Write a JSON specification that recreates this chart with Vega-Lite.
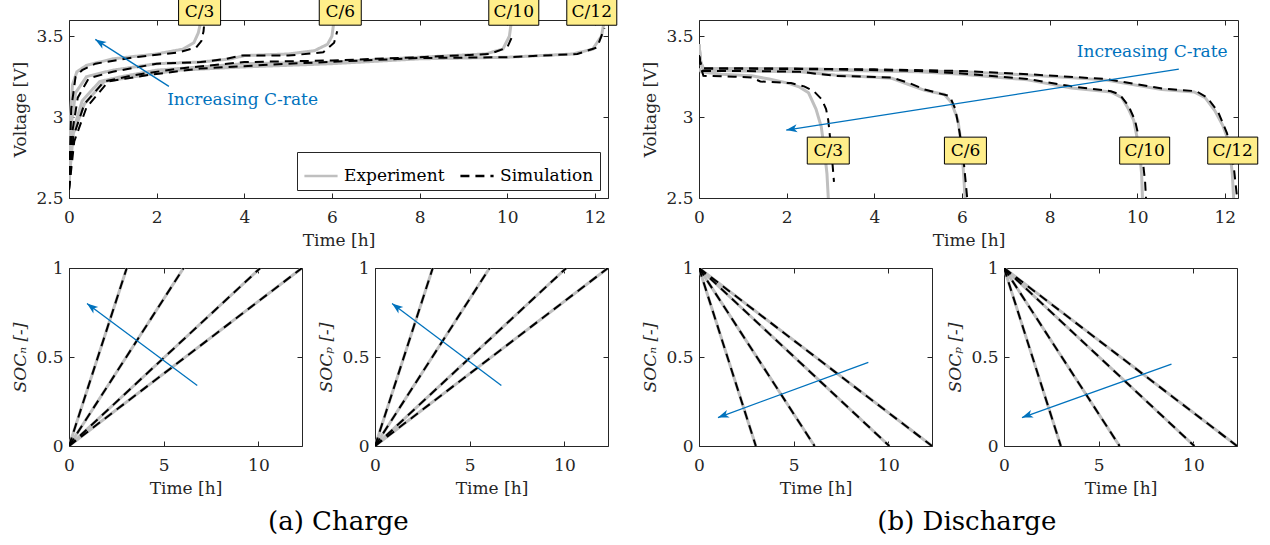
{
"$schema":"https://vega.github.io/schema/vega-lite/v6.json",
"background":"white",
"padding":{"left":11,"top":-5,"right":0,"bottom":0},
"spacing":21,
"config":{
 "font":"DejaVu Serif",
 "view":{"stroke":"#262626","strokeWidth":1},
 "axis":{"domain":false,"grid":false,"tickSize":-5,"tickColor":"#262626","tickWidth":1,"labelFont":"DejaVu Serif","labelFontSize":17,"labelColor":"#262626","titleFont":"DejaVu Serif","titleFontSize":17,"titleFontWeight":"normal","titleColor":"#262626","labelFlush":false},
 "axisX":{"labelPadding":16,"titlePadding":7},
 "axisY":{"labelPadding":11,"titlePadding":6},
 "title":{"font":"DejaVu Serif","fontSize":26,"fontWeight":"normal","color":"#000000"}
},
"datasets":{
"vc":[
{"r":"C/3","src":"Experiment","t":0,"v":2.6},{"r":"C/3","src":"Experiment","t":0.03,"v":3.0},{"r":"C/3","src":"Experiment","t":0.08,"v":3.2},{"r":"C/3","src":"Experiment","t":0.18,"v":3.28},{"r":"C/3","src":"Experiment","t":0.4,"v":3.32},{"r":"C/3","src":"Experiment","t":1,"v":3.36},{"r":"C/3","src":"Experiment","t":2,"v":3.39},{"r":"C/3","src":"Experiment","t":2.6,"v":3.42},{"r":"C/3","src":"Experiment","t":2.85,"v":3.46},{"r":"C/3","src":"Experiment","t":2.95,"v":3.52},{"r":"C/3","src":"Experiment","t":3.0,"v":3.58},{"r":"C/3","src":"Experiment","t":3.02,"v":3.6},
{"r":"C/3","src":"Simulation","t":0,"v":2.55},{"r":"C/3","src":"Simulation","t":0.05,"v":3.05},{"r":"C/3","src":"Simulation","t":0.15,"v":3.25},{"r":"C/3","src":"Simulation","t":0.3,"v":3.29},{"r":"C/3","src":"Simulation","t":0.6,"v":3.33},{"r":"C/3","src":"Simulation","t":1.5,"v":3.37},{"r":"C/3","src":"Simulation","t":2.5,"v":3.4},{"r":"C/3","src":"Simulation","t":2.9,"v":3.43},{"r":"C/3","src":"Simulation","t":3.02,"v":3.47},{"r":"C/3","src":"Simulation","t":3.07,"v":3.53},{"r":"C/3","src":"Simulation","t":3.08,"v":3.56},
{"r":"C/6","src":"Experiment","t":0,"v":2.6},{"r":"C/6","src":"Experiment","t":0.05,"v":2.95},{"r":"C/6","src":"Experiment","t":0.15,"v":3.15},{"r":"C/6","src":"Experiment","t":0.4,"v":3.25},{"r":"C/6","src":"Experiment","t":1,"v":3.29},{"r":"C/6","src":"Experiment","t":2,"v":3.33},{"r":"C/6","src":"Experiment","t":3,"v":3.34},{"r":"C/6","src":"Experiment","t":3.7,"v":3.36},{"r":"C/6","src":"Experiment","t":4,"v":3.38},{"r":"C/6","src":"Experiment","t":5,"v":3.39},{"r":"C/6","src":"Experiment","t":5.6,"v":3.41},{"r":"C/6","src":"Experiment","t":5.9,"v":3.45},{"r":"C/6","src":"Experiment","t":6.0,"v":3.5},{"r":"C/6","src":"Experiment","t":6.05,"v":3.6},
{"r":"C/6","src":"Simulation","t":0,"v":2.55},{"r":"C/6","src":"Simulation","t":0.07,"v":2.9},{"r":"C/6","src":"Simulation","t":0.2,"v":3.12},{"r":"C/6","src":"Simulation","t":0.45,"v":3.24},{"r":"C/6","src":"Simulation","t":1,"v":3.28},{"r":"C/6","src":"Simulation","t":2,"v":3.33},{"r":"C/6","src":"Simulation","t":3,"v":3.34},{"r":"C/6","src":"Simulation","t":3.6,"v":3.36},{"r":"C/6","src":"Simulation","t":3.9,"v":3.38},{"r":"C/6","src":"Simulation","t":5,"v":3.38},{"r":"C/6","src":"Simulation","t":5.8,"v":3.4},{"r":"C/6","src":"Simulation","t":6.05,"v":3.46},{"r":"C/6","src":"Simulation","t":6.12,"v":3.53},
{"r":"C/10","src":"Experiment","t":0,"v":2.6},{"r":"C/10","src":"Experiment","t":0.08,"v":2.9},{"r":"C/10","src":"Experiment","t":0.3,"v":3.1},{"r":"C/10","src":"Experiment","t":0.7,"v":3.22},{"r":"C/10","src":"Experiment","t":1.2,"v":3.25},{"r":"C/10","src":"Experiment","t":2,"v":3.29},{"r":"C/10","src":"Experiment","t":3,"v":3.31},{"r":"C/10","src":"Experiment","t":4,"v":3.33},{"r":"C/10","src":"Experiment","t":6,"v":3.34},{"r":"C/10","src":"Experiment","t":8,"v":3.37},{"r":"C/10","src":"Experiment","t":9.5,"v":3.39},{"r":"C/10","src":"Experiment","t":9.9,"v":3.42},{"r":"C/10","src":"Experiment","t":10.05,"v":3.5},{"r":"C/10","src":"Experiment","t":10.1,"v":3.6},
{"r":"C/10","src":"Simulation","t":0,"v":2.55},{"r":"C/10","src":"Simulation","t":0.1,"v":2.88},{"r":"C/10","src":"Simulation","t":0.35,"v":3.08},{"r":"C/10","src":"Simulation","t":0.8,"v":3.22},{"r":"C/10","src":"Simulation","t":1.5,"v":3.26},{"r":"C/10","src":"Simulation","t":2.5,"v":3.3},{"r":"C/10","src":"Simulation","t":4,"v":3.34},{"r":"C/10","src":"Simulation","t":6,"v":3.35},{"r":"C/10","src":"Simulation","t":8,"v":3.37},{"r":"C/10","src":"Simulation","t":9.6,"v":3.39},{"r":"C/10","src":"Simulation","t":10.0,"v":3.43},{"r":"C/10","src":"Simulation","t":10.15,"v":3.52},
{"r":"C/12","src":"Experiment","t":0,"v":2.6},{"r":"C/12","src":"Experiment","t":0.1,"v":2.9},{"r":"C/12","src":"Experiment","t":0.35,"v":3.08},{"r":"C/12","src":"Experiment","t":0.8,"v":3.22},{"r":"C/12","src":"Experiment","t":1.5,"v":3.25},{"r":"C/12","src":"Experiment","t":2.5,"v":3.29},{"r":"C/12","src":"Experiment","t":4,"v":3.31},{"r":"C/12","src":"Experiment","t":6,"v":3.33},{"r":"C/12","src":"Experiment","t":8,"v":3.36},{"r":"C/12","src":"Experiment","t":10,"v":3.37},{"r":"C/12","src":"Experiment","t":11.5,"v":3.39},{"r":"C/12","src":"Experiment","t":11.95,"v":3.42},{"r":"C/12","src":"Experiment","t":12.15,"v":3.5},{"r":"C/12","src":"Experiment","t":12.22,"v":3.6},
{"r":"C/12","src":"Simulation","t":0,"v":2.55},{"r":"C/12","src":"Simulation","t":0.12,"v":2.85},{"r":"C/12","src":"Simulation","t":0.4,"v":3.06},{"r":"C/12","src":"Simulation","t":0.9,"v":3.22},{"r":"C/12","src":"Simulation","t":1.8,"v":3.26},{"r":"C/12","src":"Simulation","t":3,"v":3.3},{"r":"C/12","src":"Simulation","t":5,"v":3.33},{"r":"C/12","src":"Simulation","t":8,"v":3.365},{"r":"C/12","src":"Simulation","t":10,"v":3.37},{"r":"C/12","src":"Simulation","t":11.6,"v":3.39},{"r":"C/12","src":"Simulation","t":12.05,"v":3.43},{"r":"C/12","src":"Simulation","t":12.22,"v":3.55}
],
"vd":[
{"r":"C/3","src":"Experiment","t":0,"v":3.3},{"r":"C/3","src":"Experiment","t":0.05,"v":3.28},{"r":"C/3","src":"Experiment","t":0.5,"v":3.265},{"r":"C/3","src":"Experiment","t":1.2,"v":3.255},{"r":"C/3","src":"Experiment","t":1.6,"v":3.235},{"r":"C/3","src":"Experiment","t":2.03,"v":3.21},{"r":"C/3","src":"Experiment","t":2.3,"v":3.185},{"r":"C/3","src":"Experiment","t":2.5,"v":3.15},{"r":"C/3","src":"Experiment","t":2.67,"v":3.05},{"r":"C/3","src":"Experiment","t":2.79,"v":2.94},{"r":"C/3","src":"Experiment","t":2.86,"v":2.8},{"r":"C/3","src":"Experiment","t":2.92,"v":2.65},{"r":"C/3","src":"Experiment","t":2.95,"v":2.5},
{"r":"C/3","src":"Simulation","t":0,"v":3.38},{"r":"C/3","src":"Simulation","t":0.05,"v":3.3},{"r":"C/3","src":"Simulation","t":0.1,"v":3.255},{"r":"C/3","src":"Simulation","t":0.8,"v":3.25},{"r":"C/3","src":"Simulation","t":1.2,"v":3.245},{"r":"C/3","src":"Simulation","t":1.4,"v":3.22},{"r":"C/3","src":"Simulation","t":2.1,"v":3.21},{"r":"C/3","src":"Simulation","t":2.4,"v":3.19},{"r":"C/3","src":"Simulation","t":2.62,"v":3.16},{"r":"C/3","src":"Simulation","t":2.8,"v":3.11},{"r":"C/3","src":"Simulation","t":2.9,"v":3.05},{"r":"C/3","src":"Simulation","t":2.95,"v":2.98},{"r":"C/3","src":"Simulation","t":3.0,"v":2.85},{"r":"C/3","src":"Simulation","t":3.05,"v":2.7},{"r":"C/3","src":"Simulation","t":3.08,"v":2.6},
{"r":"C/6","src":"Experiment","t":0,"v":3.45},{"r":"C/6","src":"Experiment","t":0.04,"v":3.33},{"r":"C/6","src":"Experiment","t":0.1,"v":3.29},{"r":"C/6","src":"Experiment","t":1,"v":3.285},{"r":"C/6","src":"Experiment","t":2.3,"v":3.28},{"r":"C/6","src":"Experiment","t":3.1,"v":3.26},{"r":"C/6","src":"Experiment","t":4.4,"v":3.24},{"r":"C/6","src":"Experiment","t":4.8,"v":3.2},{"r":"C/6","src":"Experiment","t":5.15,"v":3.165},{"r":"C/6","src":"Experiment","t":5.6,"v":3.14},{"r":"C/6","src":"Experiment","t":5.76,"v":3.09},{"r":"C/6","src":"Experiment","t":5.91,"v":2.98},{"r":"C/6","src":"Experiment","t":6.0,"v":2.8},{"r":"C/6","src":"Experiment","t":6.05,"v":2.6},{"r":"C/6","src":"Experiment","t":6.07,"v":2.5},
{"r":"C/6","src":"Simulation","t":0,"v":3.38},{"r":"C/6","src":"Simulation","t":0.05,"v":3.3},{"r":"C/6","src":"Simulation","t":0.1,"v":3.285},{"r":"C/6","src":"Simulation","t":1,"v":3.285},{"r":"C/6","src":"Simulation","t":2.3,"v":3.28},{"r":"C/6","src":"Simulation","t":3.1,"v":3.255},{"r":"C/6","src":"Simulation","t":4.4,"v":3.245},{"r":"C/6","src":"Simulation","t":4.8,"v":3.21},{"r":"C/6","src":"Simulation","t":5.15,"v":3.17},{"r":"C/6","src":"Simulation","t":5.5,"v":3.145},{"r":"C/6","src":"Simulation","t":5.72,"v":3.13},{"r":"C/6","src":"Simulation","t":5.85,"v":3.05},{"r":"C/6","src":"Simulation","t":5.95,"v":2.9},{"r":"C/6","src":"Simulation","t":6.05,"v":2.7},{"r":"C/6","src":"Simulation","t":6.12,"v":2.5},
{"r":"C/10","src":"Experiment","t":0,"v":3.45},{"r":"C/10","src":"Experiment","t":0.04,"v":3.34},{"r":"C/10","src":"Experiment","t":0.1,"v":3.3},{"r":"C/10","src":"Experiment","t":1,"v":3.3},{"r":"C/10","src":"Experiment","t":3,"v":3.29},{"r":"C/10","src":"Experiment","t":5,"v":3.28},{"r":"C/10","src":"Experiment","t":6,"v":3.265},{"r":"C/10","src":"Experiment","t":7.5,"v":3.23},{"r":"C/10","src":"Experiment","t":8.5,"v":3.18},{"r":"C/10","src":"Experiment","t":9.4,"v":3.155},{"r":"C/10","src":"Experiment","t":9.65,"v":3.12},{"r":"C/10","src":"Experiment","t":9.8,"v":3.05},{"r":"C/10","src":"Experiment","t":9.92,"v":2.98},{"r":"C/10","src":"Experiment","t":10.05,"v":2.8},{"r":"C/10","src":"Experiment","t":10.1,"v":2.65},{"r":"C/10","src":"Experiment","t":10.12,"v":2.5},
{"r":"C/10","src":"Simulation","t":0,"v":3.38},{"r":"C/10","src":"Simulation","t":0.05,"v":3.31},{"r":"C/10","src":"Simulation","t":0.1,"v":3.3},{"r":"C/10","src":"Simulation","t":1,"v":3.3},{"r":"C/10","src":"Simulation","t":3,"v":3.295},{"r":"C/10","src":"Simulation","t":5,"v":3.285},{"r":"C/10","src":"Simulation","t":6,"v":3.27},{"r":"C/10","src":"Simulation","t":7.5,"v":3.235},{"r":"C/10","src":"Simulation","t":8.5,"v":3.19},{"r":"C/10","src":"Simulation","t":9.4,"v":3.16},{"r":"C/10","src":"Simulation","t":9.6,"v":3.14},{"r":"C/10","src":"Simulation","t":9.8,"v":3.07},{"r":"C/10","src":"Simulation","t":9.95,"v":2.98},{"r":"C/10","src":"Simulation","t":10.1,"v":2.8},{"r":"C/10","src":"Simulation","t":10.18,"v":2.6},{"r":"C/10","src":"Simulation","t":10.2,"v":2.5},
{"r":"C/12","src":"Experiment","t":0,"v":3.45},{"r":"C/12","src":"Experiment","t":0.04,"v":3.34},{"r":"C/12","src":"Experiment","t":0.1,"v":3.3},{"r":"C/12","src":"Experiment","t":2,"v":3.3},{"r":"C/12","src":"Experiment","t":4,"v":3.29},{"r":"C/12","src":"Experiment","t":6,"v":3.28},{"r":"C/12","src":"Experiment","t":7.5,"v":3.26},{"r":"C/12","src":"Experiment","t":9.26,"v":3.23},{"r":"C/12","src":"Experiment","t":10.56,"v":3.17},{"r":"C/12","src":"Experiment","t":11.3,"v":3.155},{"r":"C/12","src":"Experiment","t":11.55,"v":3.12},{"r":"C/12","src":"Experiment","t":11.77,"v":3.04},{"r":"C/12","src":"Experiment","t":11.95,"v":2.95},{"r":"C/12","src":"Experiment","t":12.09,"v":2.85},{"r":"C/12","src":"Experiment","t":12.17,"v":2.65},{"r":"C/12","src":"Experiment","t":12.2,"v":2.5},
{"r":"C/12","src":"Simulation","t":0,"v":3.38},{"r":"C/12","src":"Simulation","t":0.05,"v":3.31},{"r":"C/12","src":"Simulation","t":0.1,"v":3.3},{"r":"C/12","src":"Simulation","t":2,"v":3.3},{"r":"C/12","src":"Simulation","t":4,"v":3.295},{"r":"C/12","src":"Simulation","t":6,"v":3.285},{"r":"C/12","src":"Simulation","t":7.5,"v":3.265},{"r":"C/12","src":"Simulation","t":9.3,"v":3.235},{"r":"C/12","src":"Simulation","t":10.6,"v":3.175},{"r":"C/12","src":"Simulation","t":11.35,"v":3.16},{"r":"C/12","src":"Simulation","t":11.6,"v":3.12},{"r":"C/12","src":"Simulation","t":11.85,"v":3.03},{"r":"C/12","src":"Simulation","t":12.05,"v":2.9},{"r":"C/12","src":"Simulation","t":12.2,"v":2.7},{"r":"C/12","src":"Simulation","t":12.28,"v":2.5}
],
"soc":[
{"p":"charge","r":"C/3","t":0,"v":0},{"p":"charge","r":"C/3","t":3.05,"v":1},
{"p":"charge","r":"C/6","t":0,"v":0},{"p":"charge","r":"C/6","t":6.05,"v":1},
{"p":"charge","r":"C/10","t":0,"v":0},{"p":"charge","r":"C/10","t":10.1,"v":1},
{"p":"charge","r":"C/12","t":0,"v":0},{"p":"charge","r":"C/12","t":12.3,"v":1},
{"p":"discharge","r":"C/3","t":0,"v":1},{"p":"discharge","r":"C/3","t":3.0,"v":0},
{"p":"discharge","r":"C/6","t":0,"v":1},{"p":"discharge","r":"C/6","t":6.1,"v":0},
{"p":"discharge","r":"C/10","t":0,"v":1},{"p":"discharge","r":"C/10","t":10.05,"v":0},
{"p":"discharge","r":"C/12","t":0,"v":1},{"p":"discharge","r":"C/12","t":12.3,"v":0}
],
"arrows":[
{"p":"VC","t":2.28,"v":3.19,"t2":0.6,"v2":3.48},
{"p":"VD","t":10.95,"v":3.296,"t2":1.99,"v2":2.92},
{"p":"SCn","t":6.77,"v":0.34,"t2":0.95,"v2":0.8},
{"p":"SCp","t":6.67,"v":0.34,"t2":0.9,"v2":0.8},
{"p":"SDn","t":8.94,"v":0.47,"t2":1.0,"v2":0.16},
{"p":"SDp","t":8.84,"v":0.46,"t2":0.95,"v2":0.16}
],
"notes":[
{"p":"VC","label":"Increasing C-rate","t":2.24,"v":3.105},
{"p":"VD","label":"Increasing C-rate","t":8.62,"v":3.4}
],
"boxes":[
{"p":"VC","label":"C/3","t":2.98,"v":3.651},
{"p":"VC","label":"C/6","t":6.19,"v":3.651},
{"p":"VC","label":"C/10","t":10.15,"v":3.651},
{"p":"VC","label":"C/12","t":11.93,"v":3.651},
{"p":"VD","label":"C/3","t":2.95,"v":2.793},
{"p":"VD","label":"C/6","t":6.08,"v":2.793},
{"p":"VD","label":"C/10","t":10.17,"v":2.793},
{"p":"VD","label":"C/12","t":12.18,"v":2.793}
]
},
"resolve":{"scale":{"color":"independent","strokeDash":"independent"},"legend":{"color":"independent","strokeDash":"independent"}},
"hconcat":[
{
 "title":{"text":"(a) Charge","orient":"bottom","frame":"bounds","anchor":"middle","offset":12,"dx":23},
 "spacing":9,
 "resolve":{"scale":{"color":"independent","strokeDash":"independent"},"legend":{"color":"independent","strokeDash":"independent"}},
 "vconcat":[
  {"width":539,"height":178,
   "resolve":{"axis":{"x":"independent","y":"independent"}},
   "layer":[
   {"layer":[
    {"data":{"name":"vc"},"transform":[{"filter":"datum.src=='Experiment'"}],
     "mark":{"type":"line","strokeWidth":3,"clip":true},
     "encoding":{
      "x":{"field":"t","type":"quantitative","scale":{"domain":[0,12.3],"nice":false,"zero":false},"axis":{"values":[0,2,4,6,8,10,12],"title":"Time [h]"}},
      "y":{"field":"v","type":"quantitative","scale":{"domain":[2.5,3.6],"nice":false,"zero":false},"axis":{"values":[2.5,3,3.5],"format":"~g","title":"Voltage [V]"}},
      "color":{"field":"src","type":"nominal","scale":{"domain":["Experiment","Simulation"],"range":["#bfbfbf","#000000"]},"legend":{"title":null,"orient":"bottom-right","direction":"horizontal","offset":8,"fillColor":"#ffffff","strokeColor":"#262626","padding":6,"labelFont":"DejaVu Serif","labelFontSize":17,"labelColor":"#000000","symbolType":"stroke","symbolSize":1100,"symbolStrokeWidth":2.5,"labelOffset":5,"columnPadding":10,"cornerRadius":0}},
      "strokeDash":{"field":"src","type":"nominal","scale":{"domain":["Experiment","Simulation"],"range":[[1,0],[9,6]]},"legend":{"title":null,"orient":"bottom-right","direction":"horizontal","offset":8,"fillColor":"#ffffff","strokeColor":"#262626","padding":6,"labelFont":"DejaVu Serif","labelFontSize":17,"labelColor":"#000000","symbolType":"stroke","symbolSize":1100,"symbolStrokeWidth":2.5,"labelOffset":5,"columnPadding":10,"cornerRadius":0}},
      "detail":{"field":"r"}
     }},
    {"data":{"name":"vc"},"transform":[{"filter":"datum.src=='Simulation'"}],
     "mark":{"type":"line","strokeWidth":2,"clip":true},
     "encoding":{
      "x":{"field":"t","type":"quantitative"},
      "y":{"field":"v","type":"quantitative"},
      "color":{"field":"src","type":"nominal","scale":{"domain":["Experiment","Simulation"],"range":["#bfbfbf","#000000"]},"legend":{"title":null,"orient":"bottom-right","direction":"horizontal","offset":8,"fillColor":"#ffffff","strokeColor":"#262626","padding":6,"labelFont":"DejaVu Serif","labelFontSize":17,"labelColor":"#000000","symbolType":"stroke","symbolSize":1100,"symbolStrokeWidth":2.5,"labelOffset":5,"columnPadding":10,"cornerRadius":0}},
      "strokeDash":{"field":"src","type":"nominal","scale":{"domain":["Experiment","Simulation"],"range":[[1,0],[9,6]]},"legend":{"title":null,"orient":"bottom-right","direction":"horizontal","offset":8,"fillColor":"#ffffff","strokeColor":"#262626","padding":6,"labelFont":"DejaVu Serif","labelFontSize":17,"labelColor":"#000000","symbolType":"stroke","symbolSize":1100,"symbolStrokeWidth":2.5,"labelOffset":5,"columnPadding":10,"cornerRadius":0}},
      "detail":{"field":"r"}
     }},
    {"data":{"name":"arrows"},"transform":[{"filter":"datum.p=='VC'"}],"mark":{"type":"rule","color":"#0072BD","strokeWidth":1.3},"encoding":{"x":{"field":"t","type":"quantitative"},"y":{"field":"v","type":"quantitative"},"x2":{"field":"t2"},"y2":{"field":"v2"}}},
    {"data":{"name":"arrows"},"transform":[{"filter":"datum.p=='VC'"}],"mark":{"type":"point","shape":"M0,0L0.55,1.5L0,1.1L-0.55,1.5Z","angle":302.5,"size":215,"filled":true,"color":"#0072BD","opacity":1},"encoding":{"x":{"field":"t2","type":"quantitative"},"y":{"field":"v2","type":"quantitative"}}},
    {"data":{"name":"notes"},"transform":[{"filter":"datum.p=='VC'"}],"mark":{"type":"text","align":"left","baseline":"middle","font":"DejaVu Serif","fontSize":17,"color":"#0072BD"},"encoding":{"x":{"field":"t","type":"quantitative"},"y":{"field":"v","type":"quantitative"},"text":{"field":"label"}}},
    {"data":{"name":"boxes"},"transform":[{"filter":"datum.p=='VC' && length(datum.label)<4"}],"mark":{"type":"point","shape":"M-1,-0.64H1V0.64H-1Z","size":1764,"filled":true,"fill":"#FFEE8A","stroke":"#000000","strokeWidth":1,"opacity":1},"encoding":{"x":{"field":"t","type":"quantitative"},"y":{"field":"v","type":"quantitative"}}},
    {"data":{"name":"boxes"},"transform":[{"filter":"datum.p=='VC' && length(datum.label)>3"}],"mark":{"type":"point","shape":"M-1,-0.54H1V0.54H-1Z","size":2500,"filled":true,"fill":"#FFEE8A","stroke":"#000000","strokeWidth":1,"opacity":1},"encoding":{"x":{"field":"t","type":"quantitative"},"y":{"field":"v","type":"quantitative"}}},
    {"data":{"name":"boxes"},"transform":[{"filter":"datum.p=='VC'"}],"mark":{"type":"text","align":"center","baseline":"middle","font":"DejaVu Serif","fontSize":17,"color":"#000000"},"encoding":{"x":{"field":"t","type":"quantitative"},"y":{"field":"v","type":"quantitative"},"text":{"field":"label"}}}
   ]},
   {"data":{"name":"arrows"},"transform":[{"filter":"datum.p=='VC'"}],"mark":{"type":"point","opacity":0},"encoding":{"x":{"field":"t","type":"quantitative","axis":{"orient":"top","labels":false,"title":null,"values":[0,2,4,6,8,10,12]}},"y":{"field":"v","type":"quantitative","axis":{"orient":"right","labels":false,"title":null,"values":[2.5,3,3.5]}}}}
   ]},
  {"spacing":14,
   "hconcat":[
    {"width":233,"height":178,
     "resolve":{"axis":{"x":"independent","y":"independent"}},
     "layer":[
     {"layer":[
      {"data":{"name":"soc"},"transform":[{"filter":"datum.p=='charge'"}],"mark":{"type":"line","color":"#bfbfbf","strokeWidth":3,"clip":true},"encoding":{"x":{"field":"t","type":"quantitative","scale":{"domain":[0,12.3],"nice":false},"axis":{"values":[0,5,10],"title":"Time [h]"}},"y":{"field":"v","type":"quantitative","scale":{"domain":[0,1],"nice":false},"axis":{"values":[0,0.5,1],"format":"~g","title":"SOCₙ [-]","titleFontStyle":"italic"}},"detail":{"field":"r"}}},
      {"data":{"name":"soc"},"transform":[{"filter":"datum.p=='charge'"}],"mark":{"type":"line","color":"#000000","strokeWidth":2,"strokeDash":[9,6],"clip":true},"encoding":{"x":{"field":"t","type":"quantitative"},"y":{"field":"v","type":"quantitative"},"detail":{"field":"r"}}},
      {"data":{"name":"arrows"},"transform":[{"filter":"datum.p=='SCn'"}],"mark":{"type":"rule","color":"#0072BD","strokeWidth":1.3},"encoding":{"x":{"field":"t","type":"quantitative"},"y":{"field":"v","type":"quantitative"},"x2":{"field":"t2"},"y2":{"field":"v2"}}},
      {"data":{"name":"arrows"},"transform":[{"filter":"datum.p=='SCn'"}],"mark":{"type":"point","shape":"M0,0L0.55,1.5L0,1.1L-0.55,1.5Z","angle":306.6,"size":215,"filled":true,"color":"#0072BD","opacity":1},"encoding":{"x":{"field":"t2","type":"quantitative"},"y":{"field":"v2","type":"quantitative"}}}
     ]},
     {"data":{"name":"arrows"},"transform":[{"filter":"datum.p=='SCn'"}],"mark":{"type":"point","opacity":0},"encoding":{"x":{"field":"t","type":"quantitative","axis":{"orient":"top","labels":false,"title":null,"values":[0,5,10]}},"y":{"field":"v","type":"quantitative","axis":{"orient":"right","labels":false,"title":null,"values":[0,0.5,1]}}}}
     ]},
    {"width":233,"height":178,
     "resolve":{"axis":{"x":"independent","y":"independent"}},
     "layer":[
     {"layer":[
      {"data":{"name":"soc"},"transform":[{"filter":"datum.p=='charge'"}],"mark":{"type":"line","color":"#bfbfbf","strokeWidth":3,"clip":true},"encoding":{"x":{"field":"t","type":"quantitative","scale":{"domain":[0,12.3],"nice":false},"axis":{"values":[0,5,10],"title":"Time [h]"}},"y":{"field":"v","type":"quantitative","scale":{"domain":[0,1],"nice":false},"axis":{"values":[0,0.5,1],"format":"~g","title":"SOCₚ [-]","titleFontStyle":"italic"}},"detail":{"field":"r"}}},
      {"data":{"name":"soc"},"transform":[{"filter":"datum.p=='charge'"}],"mark":{"type":"line","color":"#000000","strokeWidth":2,"strokeDash":[9,6],"clip":true},"encoding":{"x":{"field":"t","type":"quantitative"},"y":{"field":"v","type":"quantitative"},"detail":{"field":"r"}}},
      {"data":{"name":"arrows"},"transform":[{"filter":"datum.p=='SCp'"}],"mark":{"type":"rule","color":"#0072BD","strokeWidth":1.3},"encoding":{"x":{"field":"t","type":"quantitative"},"y":{"field":"v","type":"quantitative"},"x2":{"field":"t2"},"y2":{"field":"v2"}}},
      {"data":{"name":"arrows"},"transform":[{"filter":"datum.p=='SCp'"}],"mark":{"type":"point","shape":"M0,0L0.55,1.5L0,1.1L-0.55,1.5Z","angle":306.6,"size":215,"filled":true,"color":"#0072BD","opacity":1},"encoding":{"x":{"field":"t2","type":"quantitative"},"y":{"field":"v2","type":"quantitative"}}}
     ]},
     {"data":{"name":"arrows"},"transform":[{"filter":"datum.p=='SCp'"}],"mark":{"type":"point","opacity":0},"encoding":{"x":{"field":"t","type":"quantitative","axis":{"orient":"top","labels":false,"title":null,"values":[0,5,10]}},"y":{"field":"v","type":"quantitative","axis":{"orient":"right","labels":false,"title":null,"values":[0,0.5,1]}}}}
     ]}
   ]}
 ]
},
{
 "title":{"text":"(b) Discharge","orient":"bottom","frame":"bounds","anchor":"middle","offset":12,"dx":16},
 "spacing":9,
 "vconcat":[
  {"width":539,"height":178,
   "resolve":{"axis":{"x":"independent","y":"independent"}},
   "layer":[
   {"layer":[
    {"data":{"name":"vd"},"transform":[{"filter":"datum.src=='Experiment'"}],"mark":{"type":"line","color":"#bfbfbf","strokeWidth":3,"clip":true},
     "encoding":{
      "x":{"field":"t","type":"quantitative","scale":{"domain":[0,12.3],"nice":false,"zero":false},"axis":{"values":[0,2,4,6,8,10,12],"title":"Time [h]"}},
      "y":{"field":"v","type":"quantitative","scale":{"domain":[2.5,3.6],"nice":false,"zero":false},"axis":{"values":[2.5,3,3.5],"format":"~g","title":"Voltage [V]"}},
      "detail":{"field":"r"}}},
    {"data":{"name":"vd"},"transform":[{"filter":"datum.src=='Simulation'"}],"mark":{"type":"line","color":"#000000","strokeWidth":2,"strokeDash":[9,6],"clip":true},
     "encoding":{"x":{"field":"t","type":"quantitative"},"y":{"field":"v","type":"quantitative"},"detail":{"field":"r"}}},
    {"data":{"name":"arrows"},"transform":[{"filter":"datum.p=='VD'"}],"mark":{"type":"rule","color":"#0072BD","strokeWidth":1.3},"encoding":{"x":{"field":"t","type":"quantitative"},"y":{"field":"v","type":"quantitative"},"x2":{"field":"t2"},"y2":{"field":"v2"}}},
    {"data":{"name":"arrows"},"transform":[{"filter":"datum.p=='VD'"}],"mark":{"type":"point","shape":"M0,0L0.55,1.5L0,1.1L-0.55,1.5Z","angle":261.2,"size":215,"filled":true,"color":"#0072BD","opacity":1},"encoding":{"x":{"field":"t2","type":"quantitative"},"y":{"field":"v2","type":"quantitative"}}},
    {"data":{"name":"notes"},"transform":[{"filter":"datum.p=='VD'"}],"mark":{"type":"text","align":"left","baseline":"middle","font":"DejaVu Serif","fontSize":17,"color":"#0072BD"},"encoding":{"x":{"field":"t","type":"quantitative"},"y":{"field":"v","type":"quantitative"},"text":{"field":"label"}}},
    {"data":{"name":"boxes"},"transform":[{"filter":"datum.p=='VD' && length(datum.label)<4"}],"mark":{"type":"point","shape":"M-1,-0.64H1V0.64H-1Z","size":1764,"filled":true,"fill":"#FFEE8A","stroke":"#000000","strokeWidth":1,"opacity":1},"encoding":{"x":{"field":"t","type":"quantitative"},"y":{"field":"v","type":"quantitative"}}},
    {"data":{"name":"boxes"},"transform":[{"filter":"datum.p=='VD' && length(datum.label)>3"}],"mark":{"type":"point","shape":"M-1,-0.54H1V0.54H-1Z","size":2500,"filled":true,"fill":"#FFEE8A","stroke":"#000000","strokeWidth":1,"opacity":1},"encoding":{"x":{"field":"t","type":"quantitative"},"y":{"field":"v","type":"quantitative"}}},
    {"data":{"name":"boxes"},"transform":[{"filter":"datum.p=='VD'"}],"mark":{"type":"text","align":"center","baseline":"middle","font":"DejaVu Serif","fontSize":17,"color":"#000000"},"encoding":{"x":{"field":"t","type":"quantitative"},"y":{"field":"v","type":"quantitative"},"text":{"field":"label"}}}
   ]},
   {"data":{"name":"arrows"},"transform":[{"filter":"datum.p=='VD'"}],"mark":{"type":"point","opacity":0},"encoding":{"x":{"field":"t","type":"quantitative","axis":{"orient":"top","labels":false,"title":null,"values":[0,2,4,6,8,10,12]}},"y":{"field":"v","type":"quantitative","axis":{"orient":"right","labels":false,"title":null,"values":[2.5,3,3.5]}}}}
   ]},
  {"spacing":13,
   "hconcat":[
    {"width":233,"height":178,
     "resolve":{"axis":{"x":"independent","y":"independent"}},
     "layer":[
     {"layer":[
      {"data":{"name":"soc"},"transform":[{"filter":"datum.p=='discharge'"}],"mark":{"type":"line","color":"#bfbfbf","strokeWidth":3,"clip":true},"encoding":{"x":{"field":"t","type":"quantitative","scale":{"domain":[0,12.3],"nice":false},"axis":{"values":[0,5,10],"title":"Time [h]"}},"y":{"field":"v","type":"quantitative","scale":{"domain":[0,1],"nice":false},"axis":{"values":[0,0.5,1],"format":"~g","title":"SOCₙ [-]","titleFontStyle":"italic"}},"detail":{"field":"r"}}},
      {"data":{"name":"soc"},"transform":[{"filter":"datum.p=='discharge'"}],"mark":{"type":"line","color":"#000000","strokeWidth":2,"strokeDash":[9,6],"clip":true},"encoding":{"x":{"field":"t","type":"quantitative"},"y":{"field":"v","type":"quantitative"},"detail":{"field":"r"}}},
      {"data":{"name":"arrows"},"transform":[{"filter":"datum.p=='SDn'"}],"mark":{"type":"rule","color":"#0072BD","strokeWidth":1.3},"encoding":{"x":{"field":"t","type":"quantitative"},"y":{"field":"v","type":"quantitative"},"x2":{"field":"t2"},"y2":{"field":"v2"}}},
      {"data":{"name":"arrows"},"transform":[{"filter":"datum.p=='SDn'"}],"mark":{"type":"point","shape":"M0,0L0.55,1.5L0,1.1L-0.55,1.5Z","angle":249.8,"size":215,"filled":true,"color":"#0072BD","opacity":1},"encoding":{"x":{"field":"t2","type":"quantitative"},"y":{"field":"v2","type":"quantitative"}}}
     ]},
     {"data":{"name":"arrows"},"transform":[{"filter":"datum.p=='SDn'"}],"mark":{"type":"point","opacity":0},"encoding":{"x":{"field":"t","type":"quantitative","axis":{"orient":"top","labels":false,"title":null,"values":[0,5,10]}},"y":{"field":"v","type":"quantitative","axis":{"orient":"right","labels":false,"title":null,"values":[0,0.5,1]}}}}
     ]},
    {"width":233,"height":178,
     "resolve":{"axis":{"x":"independent","y":"independent"}},
     "layer":[
     {"layer":[
      {"data":{"name":"soc"},"transform":[{"filter":"datum.p=='discharge'"}],"mark":{"type":"line","color":"#bfbfbf","strokeWidth":3,"clip":true},"encoding":{"x":{"field":"t","type":"quantitative","scale":{"domain":[0,12.3],"nice":false},"axis":{"values":[0,5,10],"title":"Time [h]"}},"y":{"field":"v","type":"quantitative","scale":{"domain":[0,1],"nice":false},"axis":{"values":[0,0.5,1],"format":"~g","title":"SOCₚ [-]","titleFontStyle":"italic"}},"detail":{"field":"r"}}},
      {"data":{"name":"soc"},"transform":[{"filter":"datum.p=='discharge'"}],"mark":{"type":"line","color":"#000000","strokeWidth":2,"strokeDash":[9,6],"clip":true},"encoding":{"x":{"field":"t","type":"quantitative"},"y":{"field":"v","type":"quantitative"},"detail":{"field":"r"}}},
      {"data":{"name":"arrows"},"transform":[{"filter":"datum.p=='SDp'"}],"mark":{"type":"rule","color":"#0072BD","strokeWidth":1.3},"encoding":{"x":{"field":"t","type":"quantitative"},"y":{"field":"v","type":"quantitative"},"x2":{"field":"t2"},"y2":{"field":"v2"}}},
      {"data":{"name":"arrows"},"transform":[{"filter":"datum.p=='SDp'"}],"mark":{"type":"point","shape":"M0,0L0.55,1.5L0,1.1L-0.55,1.5Z","angle":249.8,"size":215,"filled":true,"color":"#0072BD","opacity":1},"encoding":{"x":{"field":"t2","type":"quantitative"},"y":{"field":"v2","type":"quantitative"}}}
     ]},
     {"data":{"name":"arrows"},"transform":[{"filter":"datum.p=='SDp'"}],"mark":{"type":"point","opacity":0},"encoding":{"x":{"field":"t","type":"quantitative","axis":{"orient":"top","labels":false,"title":null,"values":[0,5,10]}},"y":{"field":"v","type":"quantitative","axis":{"orient":"right","labels":false,"title":null,"values":[0,0.5,1]}}}}
     ]}
   ]}
 ]
}
]
}
